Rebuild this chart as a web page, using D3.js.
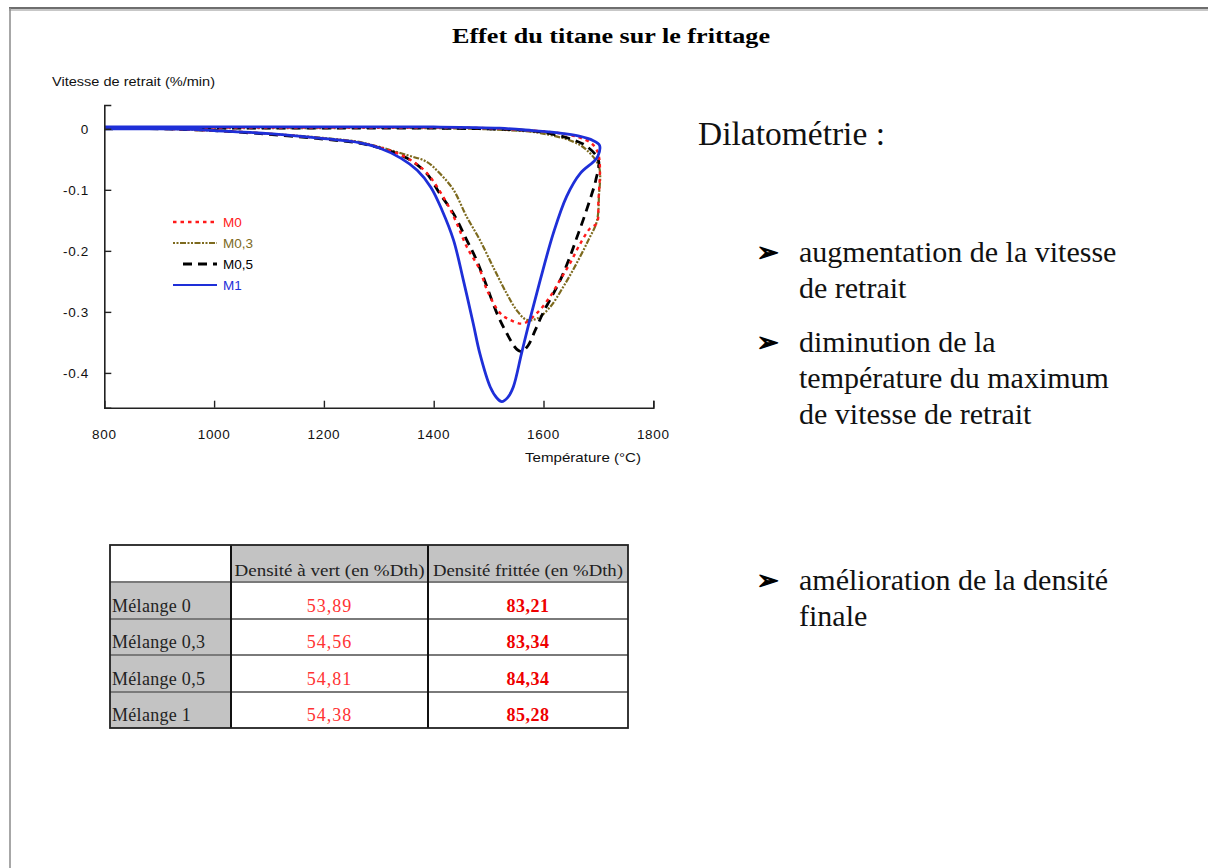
<!DOCTYPE html>
<html lang="fr">
<head>
<meta charset="utf-8">
<title>Effet du titane sur le frittage</title>
<script src="https://cdn.jsdelivr.net/npm/d3@7/dist/d3.min.js"></script>
<style>
  html, body { margin: 0; padding: 0; background: #ffffff; }
  svg { display: block; }
</style>
</head>
<body>
<svg id="page" width="1208" height="868"></svg>
<script>
// ---- Dilatometry: shrinkage rate (%/min) vs temperature (°C), heating + cooling loop ----
const tempTicks = [800, 1000, 1200, 1400, 1600, 1800];
const rateTicks = [0, -0.1, -0.2, -0.3, -0.4];
const seriesNames = ["M0", "M0,3", "M0,5", "M1"];

const m0Points = [
  [800, 0], [900, 0], [1000, -0.003], [1100, -0.008], [1200, -0.016], [1260, -0.022],
  [1300, -0.030], [1350, -0.047], [1387, -0.072], [1424, -0.122], [1442, -0.155],
  [1460, -0.193], [1484, -0.231], [1497, -0.264], [1521, -0.302], [1539, -0.313],
  [1563, -0.319], [1588, -0.302], [1612, -0.275], [1630, -0.248], [1648, -0.221],
  [1667, -0.188], [1685, -0.163], [1697, -0.155], [1700, -0.120], [1701, -0.046],
  [1690, -0.026], [1665, -0.014], [1620, -0.006], [1560, -0.002], [1500, 0.001],
  [1300, 0.002], [1000, 0.002], [800, 0.002]
];
const m03Points = [
  [800, 0], [900, 0], [1000, -0.003], [1100, -0.008], [1200, -0.015], [1260, -0.021],
  [1290, -0.027], [1351, -0.043], [1387, -0.054], [1411, -0.073], [1436, -0.100],
  [1460, -0.144], [1484, -0.182], [1508, -0.226], [1533, -0.270], [1551, -0.297],
  [1569, -0.313], [1588, -0.311], [1612, -0.292], [1636, -0.259], [1660, -0.221],
  [1682, -0.182], [1697, -0.152], [1701, -0.110], [1701, -0.062], [1679, -0.035],
  [1654, -0.021], [1594, -0.007], [1530, -0.002], [1400, 0.001], [1100, 0.001], [800, 0.001]
];
const m05Points = [
  [800, 0], [900, 0], [1000, -0.003], [1100, -0.009], [1200, -0.017], [1260, -0.023],
  [1300, -0.031], [1351, -0.048], [1387, -0.073], [1411, -0.106], [1436, -0.139],
  [1460, -0.182], [1478, -0.215], [1497, -0.259], [1515, -0.302], [1533, -0.335],
  [1551, -0.361], [1560, -0.365], [1572, -0.355], [1585, -0.330], [1600, -0.300],
  [1615, -0.275], [1632, -0.245], [1648, -0.210], [1660, -0.180], [1672, -0.150],
  [1685, -0.115], [1695, -0.085], [1700, -0.051], [1679, -0.029], [1654, -0.018],
  [1594, -0.005], [1530, -0.001], [1400, 0.001], [1100, 0.001], [800, 0.001]
];
const m1Points = [
  [800, 0], [900, 0], [960, -0.001], [1000, -0.003], [1100, -0.008], [1200, -0.016],
  [1266, -0.023], [1300, -0.031], [1340, -0.048], [1370, -0.068], [1395, -0.096],
  [1415, -0.133], [1436, -0.182], [1454, -0.248], [1472, -0.319], [1484, -0.368],
  [1503, -0.423], [1515, -0.441], [1524, -0.447], [1535, -0.440], [1545, -0.423],
  [1560, -0.368], [1575, -0.313], [1594, -0.248], [1618, -0.171], [1642, -0.111],
  [1667, -0.073], [1691, -0.054], [1699, -0.045], [1702, -0.027], [1690, -0.019],
  [1665, -0.012], [1630, -0.007], [1580, -0.003], [1520, 0.001], [1400, 0.003],
  [1100, 0.003], [800, 0.003]
];

// Density table
const tableRows = ["Mélange 0", "Mélange 0,3", "Mélange 0,5", "Mélange 1"];
const tableHeaders = ["Densité  à vert (en %Dth)", "Densité frittée (en %Dth)"];
const greenDensity = ["53,89", "54,56", "54,81", "54,38"];
const sinteredDensity = ["83,21", "83,34", "84,34", "85,28"];

// Right-hand notes
const noteTitle = "Dilatométrie :";
const bulletGroups = [
  ["augmentation de la vitesse", "de retrait"],
  ["diminution de la", "température du maximum", "de vitesse de retrait"],
  ["amélioration de la densité", "finale"]
];

const svg = d3.select("#page");
const serif = "'Liberation Serif', 'Times New Roman', serif";
const sans = "'Liberation Sans', Arial, sans-serif";

// ---- slide frame ----
svg.append("rect").attr("x", 0).attr("y", 0).attr("width", 1208).attr("height", 868).attr("fill", "#ffffff");
svg.append("line").attr("x1", 9).attr("x2", 1208).attr("y1", 8).attr("y2", 8)
  .attr("stroke", "#6e6e6e").attr("stroke-width", 2);
svg.append("line").attr("x1", 9).attr("x2", 1208).attr("y1", 10).attr("y2", 10)
  .attr("stroke", "#b4b4b4").attr("stroke-width", 1.5);
svg.append("line").attr("x1", 10).attr("x2", 10).attr("y1", 8).attr("y2", 868)
  .attr("stroke", "#8a8a8a").attr("stroke-width", 1.5);

// ---- title ----
svg.append("text")
  .attr("x", 452).attr("y", 43)
  .attr("font-family", serif).attr("font-weight", "bold").attr("font-size", 20)
  .attr("textLength", 318).attr("lengthAdjust", "spacingAndGlyphs")
  .attr("fill", "#000")
  .text("Effet du titane sur le frittage");

// ---- chart ----
const x = d3.scaleLinear().domain([800, 1800]).range([104.3, 653.3]);
const y = d3.scaleLinear().domain([-0.457, 0.039]).range([407.7, 105]);

const chart = svg.append("g");

const lineGen = d3.line()
  .x(d => x(d[0])).y(d => y(d[1]))
  .curve(d3.curveCatmullRom.alpha(0.5));

const seriesStyles = [
  { name: seriesNames[1], pts: m03Points, color: "#7d6a1e", width: 2.2, dash: "2,1.5,2,1.5,6,1.5" },
  { name: seriesNames[2], pts: m05Points, color: "#000000", width: 2.8, dash: "9,6" },
  { name: seriesNames[0], pts: m0Points, color: "#ff1a1a", width: 2.4, dash: "3.5,4" },
  { name: seriesNames[3], pts: m1Points, color: "#1e2fd8", width: 2.8, dash: null }
];

chart.selectAll("path.series")
  .data(seriesStyles)
  .join("path")
  .attr("class", "series")
  .attr("d", d => lineGen(d.pts))
  .attr("fill", "none")
  .attr("stroke", d => d.color)
  .attr("stroke-width", d => d.width)
  .attr("stroke-dasharray", d => d.dash)
  .attr("stroke-linejoin", "round");

// axes (ticks point inward)
const xAxis = d3.axisTop(x).tickValues(tempTicks).tickSize(7).tickFormat("");
const yAxis = d3.axisRight(y).tickValues(rateTicks).tickSize(7).tickFormat("");

const gx = chart.append("g").attr("transform", `translate(0,${y.range()[0]})`).call(xAxis);
const gy = chart.append("g").attr("transform", `translate(${x.range()[0]},0)`).call(yAxis);
[gx, gy].forEach(g => {
  g.select(".domain").attr("stroke", "#222").attr("stroke-width", 1.6);
  g.selectAll(".tick line").attr("stroke", "#222").attr("stroke-width", 1.4);
});
// x tick at 800 coincides with the y axis; keep it hidden
gx.selectAll(".tick").filter(d => d === 800).remove();

// tick labels
chart.selectAll("text.xlab")
  .data(tempTicks)
  .join("text")
  .attr("class", "xlab")
  .attr("x", d => x(d)).attr("y", 439)
  .attr("text-anchor", "middle")
  .attr("font-family", sans).attr("font-size", 13.5)
  .attr("letter-spacing", 0.7)
  .attr("fill", "#111")
  .text(d => d3.format("d")(d));

chart.selectAll("text.ylab")
  .data(rateTicks)
  .join("text")
  .attr("class", "ylab")
  .attr("x", 89).attr("y", d => y(d) + 5)
  .attr("text-anchor", "end")
  .attr("font-family", sans).attr("font-size", 13.5)
  .attr("letter-spacing", 0.7)
  .attr("fill", "#111")
  .text(d => d === 0 ? "0" : d3.format(".1f")(d).replace("−", "-"));

// axis titles
chart.append("text")
  .attr("x", 52).attr("y", 86)
  .attr("font-family", sans).attr("font-size", 12.5)
  .attr("textLength", 163).attr("lengthAdjust", "spacingAndGlyphs")
  .attr("fill", "#111")
  .text("Vitesse de retrait (%/min)");

chart.append("text")
  .attr("x", 525).attr("y", 462)
  .attr("font-family", sans).attr("font-size", 13)
  .attr("textLength", 116).attr("lengthAdjust", "spacingAndGlyphs")
  .attr("fill", "#111")
  .text("Température (°C)");

// legend
const legendOrder = [seriesStyles[2], seriesStyles[0], seriesStyles[1], seriesStyles[3]];
const legend = chart.append("g");
const lg = legend.selectAll("g")
  .data(legendOrder)
  .join("g")
  .attr("transform", (d, i) => `translate(0,${222 + i * 21})`);
lg.append("line")
  .attr("x1", d => d.name === "M0,5" ? 183 : 173).attr("x2", 217)
  .attr("y1", 0).attr("y2", 0)
  .attr("stroke", d => d.color)
  .attr("stroke-width", d => d.name === "M1" ? 2 : d.width)
  .attr("stroke-dasharray", d => d.dash);
lg.append("text")
  .attr("x", 223).attr("y", 5)
  .attr("font-family", sans).attr("font-size", 13.5)
  .attr("fill", d => d.color)
  .text(d => d.name);

// ---- right-hand notes ----
svg.append("text")
  .attr("x", 698).attr("y", 145)
  .attr("font-family", serif).attr("font-size", 33.5)
  .attr("fill", "#111")
  .text(noteTitle);

const bulletTops = [262, 352, 590];
bulletGroups.forEach((lines, gi) => {
  svg.append("text")
    .attr("x", 757).attr("y", bulletTops[gi] - 1)
    .attr("font-family", "'DejaVu Sans', sans-serif").attr("font-size", 26)
    .attr("fill", "#000")
    .attr("stroke", "#000").attr("stroke-width", 1.3).attr("stroke-linejoin", "round")
    .text("➢");
  lines.forEach((ln, li) => {
    svg.append("text")
      .attr("x", 799).attr("y", bulletTops[gi] + li * 36)
      .attr("font-family", serif).attr("font-size", 30)
      .attr("fill", "#111")
      .text(ln);
  });
});

// ---- density table ----
const colX = [110, 231, 428, 628];
const rowY = [545, 582, 619, 655, 692, 728];
const table = svg.append("g");

// shaded header cells and row labels
table.append("rect").attr("x", colX[1]).attr("y", rowY[0])
  .attr("width", colX[3] - colX[1]).attr("height", rowY[1] - rowY[0]).attr("fill", "#c3c3c3");
table.append("rect").attr("x", colX[0]).attr("y", rowY[1])
  .attr("width", colX[1] - colX[0]).attr("height", rowY[5] - rowY[1]).attr("fill", "#c3c3c3");

// grid lines
rowY.slice(1, 5).forEach(ry => {
  table.append("line").attr("x1", colX[0]).attr("x2", colX[3]).attr("y1", ry).attr("y2", ry)
    .attr("stroke", "#7a7a7a").attr("stroke-width", 2);
});
colX.slice(1, 3).forEach(cx => {
  table.append("line").attr("x1", cx).attr("x2", cx).attr("y1", rowY[0]).attr("y2", rowY[5])
    .attr("stroke", "#111").attr("stroke-width", 2);
});
table.append("rect").attr("x", colX[0]).attr("y", rowY[0])
  .attr("width", colX[3] - colX[0]).attr("height", rowY[5] - rowY[0])
  .attr("fill", "none").attr("stroke", "#222").attr("stroke-width", 1.8);

// header texts
tableHeaders.forEach((h, i) => {
  table.append("text")
    .attr("x", (colX[i + 1] + colX[i + 2]) / 2).attr("y", rowY[1] - 6)
    .attr("text-anchor", "middle")
    .attr("font-family", serif).attr("font-size", 16.5)
    .attr("textLength", 190).attr("lengthAdjust", "spacingAndGlyphs")
    .attr("fill", "#222")
    .text(h);
});

tableRows.forEach((r, i) => {
  const base = rowY[i + 2] - 7;
  table.append("text")
    .attr("x", 112).attr("y", base)
    .attr("font-family", serif).attr("font-size", 18)
    .attr("letter-spacing", 0.3)
    .attr("fill", "#222")
    .text(r);
  table.append("text")
    .attr("x", (colX[1] + colX[2]) / 2).attr("y", base)
    .attr("text-anchor", "middle")
    .attr("font-family", serif).attr("font-size", 18)
    .attr("letter-spacing", 1)
    .attr("fill", "#ff3333")
    .text(greenDensity[i]);
  table.append("text")
    .attr("x", (colX[2] + colX[3]) / 2).attr("y", base)
    .attr("text-anchor", "middle")
    .attr("font-family", serif).attr("font-size", 18).attr("font-weight", "bold")
    .attr("letter-spacing", 0.5)
    .attr("fill", "#ee0000")
    .text(sinteredDensity[i]);
});
</script>
</body>
</html>
